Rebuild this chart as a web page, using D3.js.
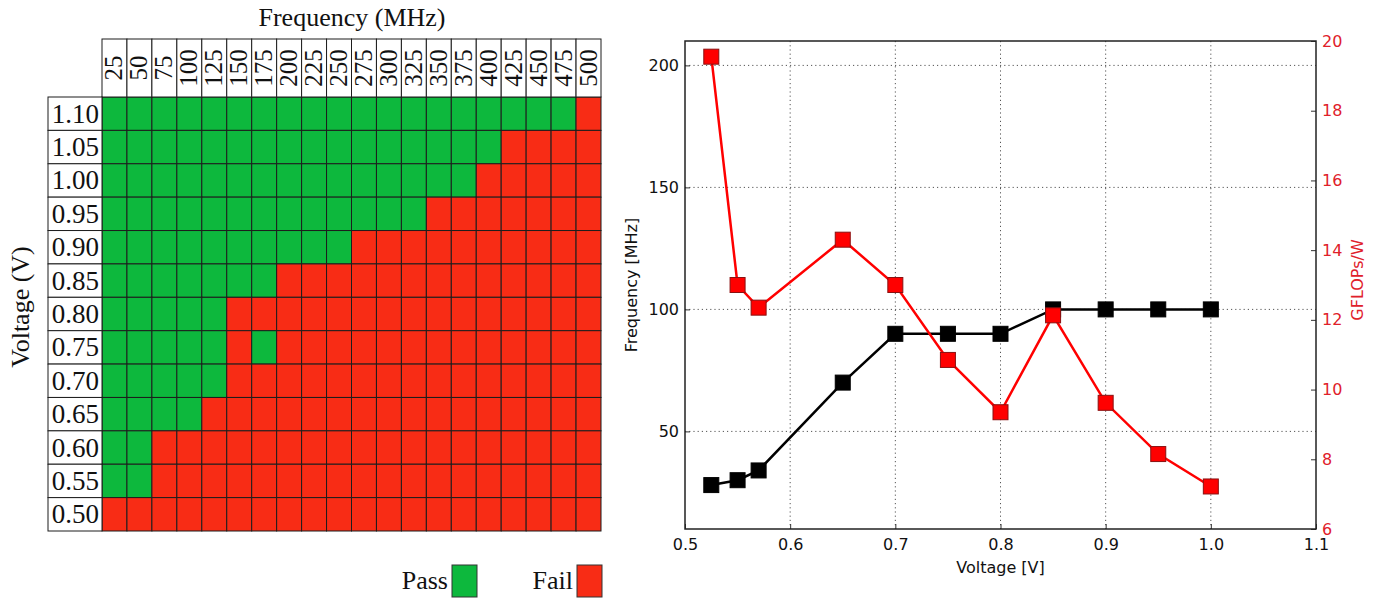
<!DOCTYPE html>
<html>
<head>
<meta charset="utf-8">
<script src="https://cdn.jsdelivr.net/npm/d3@7"></script>
<style>
  body { margin: 0; background: white; }
  svg text { fill: #111; }
</style>
</head>
<body>
<div id="visualization"></div>
<script>
// ---- shmoo plot data ----
const frequencies = [25, 50, 75, 100, 125, 150, 175, 200, 225, 250, 275, 300, 325, 350, 375, 400, 425, 450, 475, 500];
const voltages = ['1.10', '1.05', '1.00', '0.95', '0.90', '0.85', '0.80', '0.75', '0.70', '0.65', '0.60', '0.55', '0.50'];
// one letter per frequency column, P = pass, F = fail
const results = [
    'PPPPPPPPPPPPPPPPPPPF', // 1.10
    'PPPPPPPPPPPPPPPPFFFF', // 1.05
    'PPPPPPPPPPPPPPPFFFFF', // 1.00
    'PPPPPPPPPPPPPFFFFFFF', // 0.95
    'PPPPPPPPPPFFFFFFFFFF', // 0.90
    'PPPPPPPFFFFFFFFFFFFF', // 0.85
    'PPPPPFFFFFFFFFFFFFFF', // 0.80
    'PPPPPFPFFFFFFFFFFFFF', // 0.75
    'PPPPPFFFFFFFFFFFFFFF', // 0.70
    'PPPPFFFFFFFFFFFFFFFF', // 0.65
    'PPFFFFFFFFFFFFFFFFFF', // 0.60
    'PPFFFFFFFFFFFFFFFFFF', // 0.55
    'FFFFFFFFFFFFFFFFFFFF'  // 0.50
];
const legendItems = ['Pass', 'Fail'];

// ---- voltage sweep data ----
const sweepVoltage = [0.525, 0.55, 0.57, 0.65, 0.70, 0.75, 0.80, 0.85, 0.90, 0.95, 1.00];
const maxFrequency = [28, 30, 34, 70, 90, 90, 90, 100, 100, 100, 100];
const efficiency = [19.55, 13.0, 12.35, 14.3, 13.0, 10.85, 9.35, 12.13, 9.62, 8.15, 7.22];
const voltTicks = [0.5, 0.6, 0.7, 0.8, 0.9, 1.0, 1.1];
const freqTicks = [50, 100, 150, 200];
const effTicks = [6, 8, 10, 12, 14, 16, 18, 20];

const GREEN = '#0db83d';
const RED = '#f82c15';
const serif = '"Liberation Serif", "DejaVu Serif", serif';
const sans = '"DejaVu Sans", sans-serif';

const svg = d3.select('#visualization').append('svg')
    .attr('width', 1377)
    .attr('height', 599);

// ================= left: shmoo grid =================
const x = d3.scaleBand().domain(frequencies).range([102, 601]);
const y = d3.scaleBand().domain(voltages).range([97, 531]);
const status = { P: GREEN, F: RED };

const grid = svg.append('g');

// cells
const cells = [];
results.forEach((row, i) => {
    row.split('').forEach((s, j) => cells.push({ v: voltages[i], f: frequencies[j], s }));
});
grid.selectAll('rect.cell')
    .data(cells)
    .join('rect')
    .attr('class', 'cell')
    .attr('x', d => x(d.f))
    .attr('y', d => y(d.v))
    .attr('width', x.bandwidth())
    .attr('height', y.bandwidth())
    .attr('fill', d => status[d.s])
    .attr('stroke', '#1d1d1d')
    .attr('stroke-width', 1);

// frequency header boxes
grid.selectAll('rect.head')
    .data(frequencies)
    .join('rect')
    .attr('class', 'head')
    .attr('x', d => x(d))
    .attr('y', 39)
    .attr('width', x.bandwidth())
    .attr('height', 97 - 39)
    .attr('fill', 'white')
    .attr('stroke', '#1d1d1d');

grid.selectAll('text.head')
    .data(frequencies)
    .join('text')
    .attr('class', 'head')
    .attr('transform', d => `translate(${x(d) + x.bandwidth() / 2 + 8},68) rotate(-90)`)
    .attr('text-anchor', 'middle')
    .style('font-family', serif)
    .style('font-size', '25px')
    .text(d => d);

// voltage label boxes
grid.selectAll('rect.vlab')
    .data(voltages)
    .join('rect')
    .attr('class', 'vlab')
    .attr('x', 48)
    .attr('y', d => y(d))
    .attr('width', 102 - 48)
    .attr('height', y.bandwidth())
    .attr('fill', 'white')
    .attr('stroke', '#1d1d1d');

grid.selectAll('text.vlab')
    .data(voltages)
    .join('text')
    .attr('class', 'vlab')
    .attr('x', 99)
    .attr('y', d => y(d) + y.bandwidth() / 2 + 9)
    .attr('text-anchor', 'end')
    .style('font-family', serif)
    .style('font-size', '27px')
    .text(d => d);

// titles
svg.append('text')
    .attr('x', 352)
    .attr('y', 26)
    .attr('text-anchor', 'middle')
    .style('font-family', serif)
    .style('font-size', '26px')
    .text('Frequency (MHz)');

svg.append('text')
    .attr('transform', 'translate(29,307) rotate(-90)')
    .attr('text-anchor', 'middle')
    .style('font-family', serif)
    .style('font-size', '26px')
    .text('Voltage (V)');

// legend
const legendX = d3.scaleOrdinal().domain(legendItems).range([452, 577]);
const legendColor = d3.scaleOrdinal().domain(legendItems).range([GREEN, RED]);
const legend = svg.selectAll('g.legend')
    .data(legendItems)
    .join('g')
    .attr('class', 'legend')
    .attr('transform', d => `translate(${legendX(d)},565)`);
legend.append('rect')
    .attr('width', 25)
    .attr('height', 32)
    .attr('fill', d => legendColor(d))
    .attr('stroke', '#333');
legend.append('text')
    .attr('x', -4)
    .attr('y', 24)
    .attr('text-anchor', 'end')
    .style('font-family', serif)
    .style('font-size', '26px')
    .text(d => d);

// ================= right: frequency / efficiency vs voltage =================
const pLeft = 685, pRight = 1316, pTop = 41, pBottom = 529;
const xv = d3.scaleLinear().domain([0.5, 1.1]).range([pLeft, pRight]);
const yf = d3.scaleLinear().domain([10, 210]).range([pBottom, pTop]);
const ye = d3.scaleLinear().domain([6, 20]).range([pBottom, pTop]);

const plot = svg.append('g');

// dotted grid
plot.selectAll('line.vgrid')
    .data(voltTicks.slice(1, -1))
    .join('line')
    .attr('x1', d => xv(d)).attr('x2', d => xv(d))
    .attr('y1', pTop).attr('y2', pBottom)
    .attr('stroke', '#555')
    .attr('stroke-dasharray', '1.2,3');
plot.selectAll('line.hgrid')
    .data(freqTicks)
    .join('line')
    .attr('x1', pLeft).attr('x2', pRight)
    .attr('y1', d => yf(d)).attr('y2', d => yf(d))
    .attr('stroke', '#555')
    .attr('stroke-dasharray', '1.2,3');

// axes
const styleAxis = (g, color) => {
    g.select('.domain').remove();
    g.selectAll('line').attr('stroke', '#333');
    g.selectAll('text')
        .style('font-family', sans)
        .style('font-size', '16px')
        .style('fill', color);
};
plot.append('g')
    .attr('transform', `translate(0,${pBottom})`)
    .call(d3.axisBottom(xv).tickValues(voltTicks).tickFormat(d3.format('.1f')).tickSizeInner(-5).tickSizeOuter(0).tickPadding(10))
    .call(g => styleAxis(g, '#111'));
plot.append('g')
    .attr('transform', `translate(${pLeft},0)`)
    .call(d3.axisLeft(yf).tickValues(freqTicks).tickSizeInner(-5).tickSizeOuter(0).tickPadding(6))
    .call(g => styleAxis(g, '#111'));
plot.append('g')
    .attr('transform', `translate(${pRight},0)`)
    .call(d3.axisRight(ye).tickValues(effTicks).tickSizeInner(-5).tickSizeOuter(0).tickPadding(6))
    .call(g => styleAxis(g, '#e0202a'));

// frame
plot.append('rect')
    .attr('x', pLeft).attr('y', pTop)
    .attr('width', pRight - pLeft).attr('height', pBottom - pTop)
    .attr('fill', 'none')
    .attr('stroke', '#222')
    .attr('stroke-width', 1.5);

// axis labels
svg.append('text')
    .attr('x', (pLeft + pRight) / 2)
    .attr('y', 573)
    .attr('text-anchor', 'middle')
    .style('font-family', sans)
    .style('font-size', '16px')
    .text('Voltage [V]');
svg.append('text')
    .attr('transform', `translate(637,${(pTop + pBottom) / 2}) rotate(-90)`)
    .attr('text-anchor', 'middle')
    .style('font-family', sans)
    .style('font-size', '16px')
    .text('Frequency [MHz]');
svg.append('text')
    .attr('transform', `translate(1363,${(pTop + pBottom) / 2 - 5}) rotate(-90)`)
    .attr('text-anchor', 'middle')
    .style('font-family', sans)
    .style('font-size', '16px')
    .style('fill', '#e0202a')
    .text('GFLOPs/W');

// series
const freqPts = sweepVoltage.map((v, i) => [v, maxFrequency[i]]);
const effPts = sweepVoltage.map((v, i) => [v, efficiency[i]]);
const mk = 15;

const drawSeries = (pts, yScale, lineColor, fill, edge) => {
    const line = d3.line().x(d => xv(d[0])).y(d => yScale(d[1]));
    plot.append('path')
        .datum(pts)
        .attr('d', line)
        .attr('fill', 'none')
        .attr('stroke', lineColor)
        .attr('stroke-width', 2.5);
    plot.append('g').selectAll('rect')
        .data(pts)
        .join('rect')
        .attr('x', d => xv(d[0]) - mk / 2)
        .attr('y', d => yScale(d[1]) - mk / 2)
        .attr('width', mk)
        .attr('height', mk)
        .attr('fill', fill)
        .attr('stroke', edge)
        .attr('stroke-width', 1);
};
drawSeries(freqPts, yf, '#000', '#000', '#000');
drawSeries(effPts, ye, '#ff0000', '#ff0000', '#8a1010');
</script>
</body>
</html>
